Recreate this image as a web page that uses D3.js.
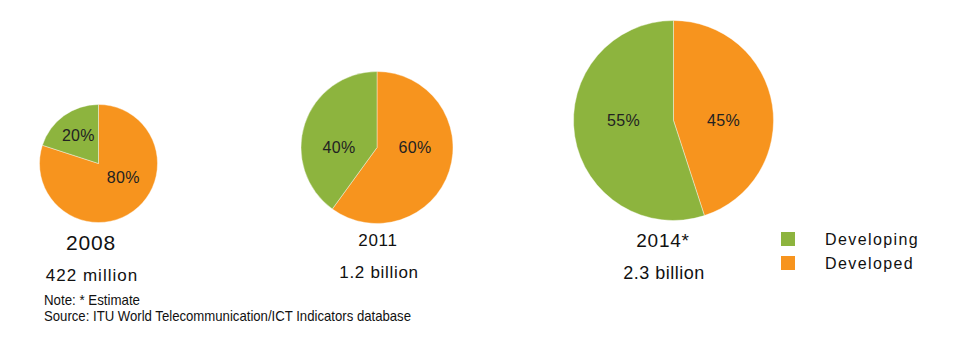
<!DOCTYPE html>
<html>
<head>
<meta charset="utf-8">
<script src="https://cdn.jsdelivr.net/npm/d3@7/dist/d3.min.js"></script>
<style>
  html, body { margin: 0; padding: 0; background: #fff; }
  svg { display: block; }
</style>
</head>
<body>
<svg id="chart" width="959" height="357"></svg>
<script>
// ---- data ----
const years = ["2008", "2011", "2014*"];
const totals = ["422 million", "1.2 billion", "2.3 billion"];
const developed = [80, 60, 45];
const developing = [20, 40, 55];
const seriesNames = ["Developing", "Developed"];
const note = "Note: * Estimate";
const source = "Source: ITU World Telecommunication/ICT Indicators database";

// ---- layout (not data) ----
const layout = [
  { cx: 98.5, cy: 163.5, r: 59, yearX: 91, yearY: 250, yearSize: 21, yearLs: 0.8, totX: 92, totY: 281, totSize: 17, totLs: 1.0 },
  { cx: 377, cy: 147.5, r: 76, yearX: 378, yearY: 246, yearSize: 17, yearLs: 0.7, totX: 379, totY: 278, totSize: 17, totLs: 0.7 },
  { cx: 673.5, cy: 120.5, r: 100, yearX: 663, yearY: 247, yearSize: 19, yearLs: 0.8, totX: 664, totY: 279, totSize: 18, totLs: 0.5 }
];
const colors = { Developing: "#8db43e", Developed: "#f7941e" };

const svg = d3.select("#chart");
const color = d3.scaleOrdinal().domain(seriesNames).range([colors.Developing, colors.Developed]);

const pie = d3.pie().sort(null).value(d => d.value);

years.forEach((yr, i) => {
  const L = layout[i];
  const slices = [
    { name: "Developed", value: developed[i] },
    { name: "Developing", value: developing[i] }
  ];
  const arcs = pie(slices);
  const arc = d3.arc().innerRadius(0).outerRadius(L.r);
  const g = svg.append("g").attr("transform", `translate(${L.cx},${L.cy})`);
  g.selectAll("path").data(arcs).join("path")
    .attr("d", arc)
    .attr("fill", d => color(d.data.name))
    .attr("stroke", "#fff")
    .attr("stroke-width", 0.4);

  g.selectAll("text").data(arcs).join("text")
    .attr("text-anchor", "middle")
    .attr("font-family", "Liberation Sans, Arial, sans-serif")
    .attr("font-size", 16)
    .attr("letter-spacing", 0.3)
    .attr("fill", "#222")
    .attr("transform", d => {
      const a0 = d.startAngle, a1 = d.endAngle;
      const contains = ang => a0 <= ang && a1 >= ang;
      const c = d3.arc().innerRadius(0.58 * L.r).outerRadius(0.58 * L.r).centroid(d);
      const hR = contains(Math.PI / 2), hL = contains(3 * Math.PI / 2);
      let x, y;
      if (hR && !hL) { x = 0.5 * L.r; y = 0; }
      else if (hL && !hR) { x = -0.5 * L.r; y = 0; }
      else if (hR && hL) {
        const hx = (c[0] >= 0 ? 1 : -1) * 0.5 * L.r;
        x = (hx + c[0]) / 2; y = c[1] / 2;
      } else { x = c[0]; y = c[1]; }
      return `translate(${x},${y + 5.5})`;
    })
    .text(d => d.data.value + "%");

  svg.append("text")
    .attr("x", L.yearX).attr("y", L.yearY)
    .attr("text-anchor", "middle")
    .attr("font-family", "Liberation Sans, Arial, sans-serif")
    .attr("font-size", L.yearSize)
    .attr("letter-spacing", L.yearLs)
    .attr("fill", "#111")
    .text(yr);

  svg.append("text")
    .attr("x", L.totX).attr("y", L.totY)
    .attr("text-anchor", "middle")
    .attr("font-family", "Liberation Sans, Arial, sans-serif")
    .attr("font-size", L.totSize)
    .attr("letter-spacing", L.totLs)
    .attr("fill", "#111")
    .text(totals[i]);
});

// legend
const legend = svg.append("g");
seriesNames.forEach((s, i) => {
  const y0 = 232 + i * 24;
  legend.append("rect")
    .attr("x", 781).attr("y", y0)
    .attr("width", 14).attr("height", 14)
    .attr("fill", color(s));
  legend.append("text")
    .attr("x", 825).attr("y", y0 + 13)
    .attr("font-family", "Liberation Sans, Arial, sans-serif")
    .attr("font-size", 16)
    .attr("letter-spacing", 1.4)
    .attr("fill", "#111")
    .text(s);
});

// notes (condensed face)
[[note, 305, 96], [source, 321, 367]].forEach(([t, y, w]) => {
  svg.append("text")
    .attr("x", 44).attr("y", y)
    .attr("font-family", "Liberation Sans, Arial, sans-serif")
    .attr("font-size", 14.5)
    .attr("textLength", w)
    .attr("lengthAdjust", "spacingAndGlyphs")
    .attr("fill", "#111")
    .text(t);
});
</script>
</body>
</html>
